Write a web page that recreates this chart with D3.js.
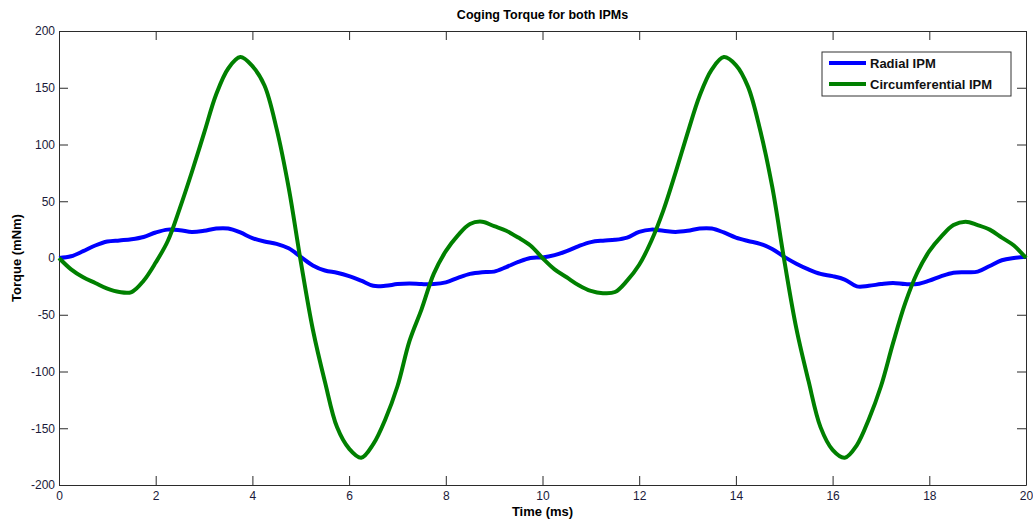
<!DOCTYPE html>
<html>
<head>
<meta charset="utf-8">
<title>Coging Torque for both IPMs</title>
<script src="https://d3js.org/d3.v7.min.js"></script>
<style>
  body { margin: 0; background: #fff; }
  text { font-family: "Liberation Sans", Arial, sans-serif; }
</style>
</head>
<body>
<svg width="1033" height="523"></svg>
<script>
// time axis in ms, 0.25 ms step
var time = d3.range(0, 81).map(function (i) { return i * 0.25; });

var radial = [
  0, 1.5, 6, 11, 14.5, 15.5, 16.5, 18.5, 22.5, 25, 24.5, 23, 24, 26, 26, 22.5, 17.5, 14.5, 12.5, 8.5,
  1, -6.5, -11, -13, -16, -20, -24.5, -24.5, -23, -22.5, -23, -23, -21.5, -17.5, -14, -12.5, -12, -8, -3.5, 0,
  0.5, 2.5, 6, 10.5, 14, 15.3, 16, 18, 23, 25, 24, 23, 24, 26, 26, 22.5, 18, 15, 12.5, 8,
  1, -5, -10, -14, -16, -19, -25, -24.5, -23, -22, -23, -23, -20, -16, -13, -12.5, -12, -7, -2, 0,
  1
];

var circumferential = [
  0, -10, -17, -22, -27, -30, -30, -20, -4, 15, 44, 76, 110, 144, 167, 177, 169, 152, 114, 62,
  -3, -63, -109, -149, -168, -176, -164, -142, -113, -73, -45, -14, 6, 20, 30, 32, 28, 24, 18, 11,
  0, -10, -17, -24, -29, -31, -30, -20, -6, 15, 42, 75, 110, 143, 166, 177, 170, 151, 113, 63,
  -2, -62, -108, -149, -169, -176, -165, -142, -113, -75, -40, -13, 6, 19, 29, 32, 29, 25, 18, 11,
  0
];

var seriesNames = ["Radial IPM", "Circumferential IPM"];
var seriesColors = ["#0000ff", "#008000"];
var xTicks = d3.range(0, 21, 2);
var yTicks = d3.range(-200, 201, 50);

var svg = d3.select("svg");
var pLeft = 59, pRight = 1026, pTop = 31, pBottom = 485;

var x = d3.scaleLinear().domain([0, 20]).range([pLeft, pRight]);
var y = d3.scaleLinear().domain([-200, 200]).range([pBottom, pTop]);

// plain hyphen for negatives, like matlab
var plain = function (d) { return String(d); };

// axes, ticks pointing inward like matlab
function styleAxis(g) {
  g.select(".domain").attr("stroke", "#2b2b2b");
  g.selectAll(".tick line").attr("stroke", "#2b2b2b");
  g.selectAll(".tick text").attr("fill", "#1a1a3a").attr("font-size", 12);
}

svg.append("g").attr("transform", "translate(0," + pBottom + ")")
  .call(d3.axisBottom(x).tickValues(xTicks).tickFormat(plain).tickSizeInner(-9).tickSizeOuter(0))
  .call(styleAxis)
  .selectAll(".tick text").attr("y", 4).attr("dy", "0.9em");

svg.append("g").attr("transform", "translate(0," + pTop + ")")
  .call(d3.axisTop(x).tickValues(xTicks).tickSizeInner(-9).tickSizeOuter(0).tickFormat(""))
  .call(styleAxis);

svg.append("g").attr("transform", "translate(" + pLeft + ",0)")
  .call(d3.axisLeft(y).tickValues(yTicks).tickFormat(plain).tickSizeInner(-9).tickSizeOuter(0))
  .call(styleAxis)
  .selectAll(".tick text").attr("x", -4);

svg.append("g").attr("transform", "translate(" + pRight + ",0)")
  .call(d3.axisRight(y).tickValues(yTicks).tickSizeInner(-9).tickSizeOuter(0).tickFormat(""))
  .call(styleAxis);

// lines
var line = d3.line()
  .x(function (d) { return x(d[0]); })
  .y(function (d) { return y(d[1]); })
  .curve(d3.curveCatmullRom);

[radial, circumferential].forEach(function (vals, k) {
  svg.append("path")
    .datum(time.map(function (t, i) { return [t, vals[i]]; }))
    .attr("d", line)
    .attr("fill", "none")
    .attr("stroke", seriesColors[k])
    .attr("stroke-width", 4)
    .attr("stroke-linejoin", "round");
});

// title and labels
svg.append("text").attr("x", (pLeft + pRight) / 2).attr("y", 19)
  .attr("text-anchor", "middle").attr("font-size", 12.5).attr("font-weight", "bold")
  .text("Coging Torque for both IPMs");

svg.append("text").attr("x", (pLeft + pRight) / 2).attr("y", 516)
  .attr("text-anchor", "middle").attr("font-size", 13).attr("font-weight", "bold")
  .text("Time (ms)");

svg.append("text").attr("transform", "translate(21," + (pTop + pBottom) / 2 + ") rotate(-90)")
  .attr("text-anchor", "middle").attr("font-size", 13).attr("font-weight", "bold")
  .text("Torque (mNm)");

// legend
var lg = svg.append("g").attr("transform", "translate(822,52)");
lg.append("rect").attr("width", 189).attr("height", 44)
  .attr("fill", "#fff").attr("stroke", "#333").attr("stroke-width", 1);
seriesNames.forEach(function (name, k) {
  var yy = 11 + k * 21;
  lg.append("line").attr("x1", 7).attr("x2", 44).attr("y1", yy).attr("y2", yy)
    .attr("stroke", seriesColors[k]).attr("stroke-width", 4);
  lg.append("text").attr("x", 48).attr("y", yy + 5)
    .attr("font-size", 13).attr("font-weight", "bold").attr("fill", "#111")
    .text(name);
});
</script>
</body>
</html>
